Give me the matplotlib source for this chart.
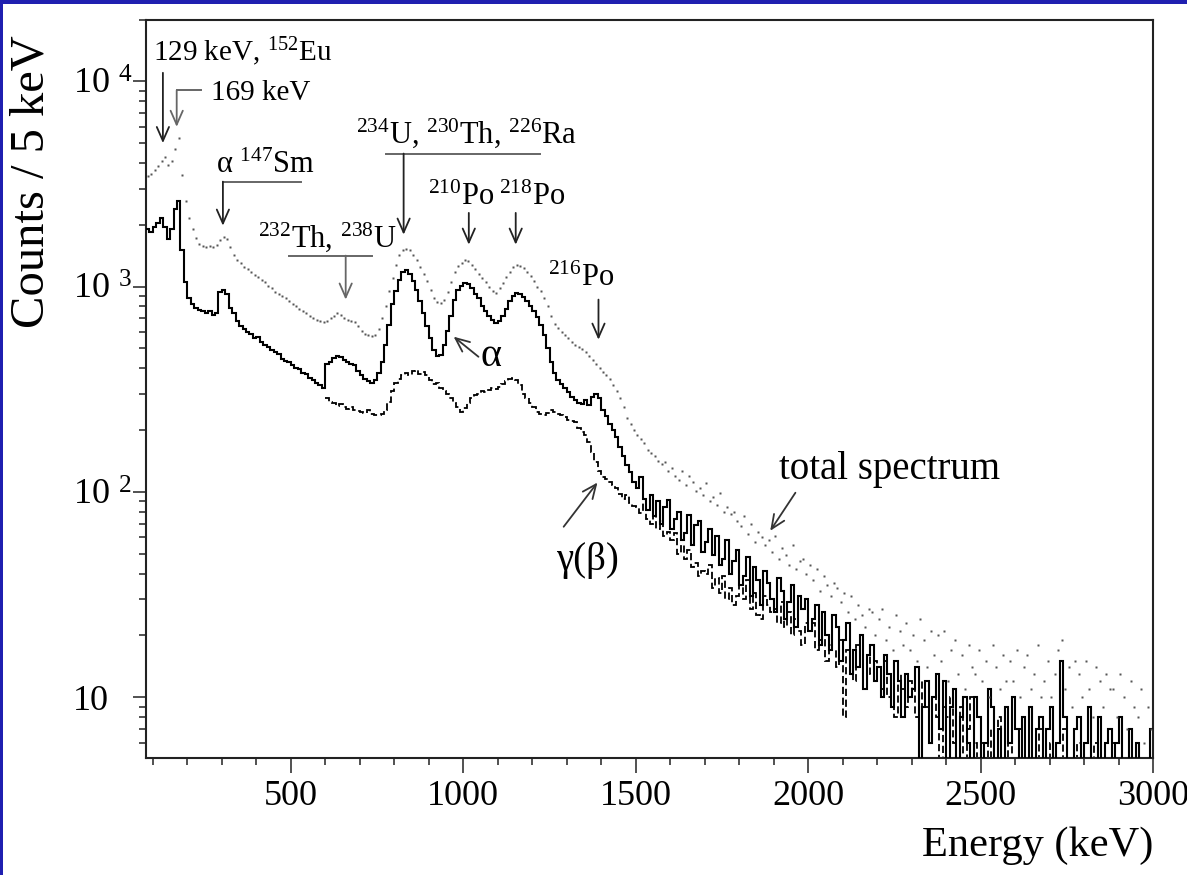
import numpy as np
import matplotlib
matplotlib.use('Agg')
import matplotlib.pyplot as plt
from matplotlib.patches import Rectangle
from matplotlib.ticker import MultipleLocator, LogLocator, NullFormatter

plt.rcParams['font.family'] = ['Liberation Serif', 'DejaVu Serif']
plt.rcParams['mathtext.fontset'] = 'custom'
plt.rcParams['mathtext.rm'] = 'Liberation Serif'
plt.rcParams['mathtext.it'] = 'Liberation Serif:italic'
plt.rcParams['mathtext.bf'] = 'Liberation Serif:bold'

# 10 keV bins from 80 keV, counts per 5 keV
E_START, E_STOP, BIN = 80, 3000, 10
GAMMA_START = 600

alpha_counts = [
    1900, 1850, 1950, 2050, 2150, 1950, 1700, 1900, 2400, 2600,   # 80
    1500, 1050, 880, 820, 790, 770, 760, 740, 760, 730,           # 180
    740, 940, 960, 920, 790, 740, 680, 640, 620, 600,             # 280
    590, 560, 565, 540, 520, 510, 490, 480, 470, 445,             # 380
    435, 430, 415, 400, 395, 380, 375, 360, 350, 340,             # 480
    330, 320, 420, 430, 450, 460, 455, 440, 430, 420,             # 580
    415, 390, 370, 355, 345, 340, 350, 380, 430, 520,             # 680
    650, 820, 950, 1080, 1180, 1210, 1150, 1060, 960, 850,        # 780
    740, 640, 560, 490, 460, 465, 520, 610, 720, 860,             # 880
    960, 1010, 1040, 1030, 980, 920, 880, 800, 760, 720,          # 980
    690, 665, 680, 720, 780, 850, 900, 930, 925, 890,             # 1080
    850, 800, 760, 710, 650, 580, 500, 430, 380, 350,             # 1180
    335, 320, 305, 290, 280, 272, 268, 280, 265, 290,             # 1280
    300, 285, 250, 235, 215, 200, 185, 165, 150, 135,             # 1380
    125, 112, 104, 118, 92, 82, 97, 76, 90, 70,                   # 1480
    84, 91, 66, 74, 80, 58, 63, 77, 55, 69,                       # 1580
    72, 51, 57, 66, 49, 61, 44, 47, 58, 40,                       # 1680
    46, 52, 35, 39, 48, 31, 43, 37, 28, 41,                       # 1780
    36, 30, 26, 38, 33, 24, 29, 35, 22, 31,                       # 1880
    27, 30, 21, 24, 28, 18, 26, 20, 17, 25,                       # 1980
    22, 15, 19, 23, 13, 17, 14, 20, 11, 16,                       # 2080
    18, 12, 14, 10, 16, 13, 9, 15, 12, 8,                         # 2180
    13, 10, 11, 14, 4, 9, 12, 6, 10, 13,                          # 2280
    7, 12, 4, 9, 11, 3, 8, 10, 6, 5,                              # 2380
    10, 8, 3, 6, 11, 9, 4, 7, 2, 9,                               # 2480
    6, 10, 7, 3, 8, 5, 9, 2, 7, 8,                                # 2580
    4, 7, 9, 3, 6, 15, 8, 5, 3, 7,                                # 2680
    8, 4, 6, 9, 3, 5, 8, 2, 6, 7,                                 # 2780
    3, 6, 8, 2, 5, 7, 3, 6, 4, 2,                                 # 2880
    3, 7,                                                         # 2980
]

gamma_counts = [
    285, 275, 270, 262, 268, 258, 252, 260, 250, 248,   # 600
    246, 242, 250, 240, 238, 236, 240, 250, 275, 310,   # 700
    340, 355, 370, 380, 372, 388, 392, 375, 385, 370,   # 800
    350, 335, 340, 320, 310, 300, 285, 270, 260, 245,   # 900
    255, 270, 285, 295, 300, 310, 305, 315, 320, 318,   # 1000
    325, 335, 345, 355, 358, 350, 330, 300, 285, 270,   # 1100
    260, 245, 240, 238, 242, 250, 245, 240, 238, 232,   # 1200
    225, 222, 218, 205, 195, 190, 175, 157, 140, 126,   # 1300
    118, 116, 112, 108, 104, 98, 92, 96, 88, 85,        # 1400
    84, 79, 88, 74, 70, 81, 66, 72, 61, 64,             # 1500
    58, 63, 50, 55, 47, 52, 43, 45, 39, 41,             # 1600
    40, 44, 34, 38, 32, 39, 30, 34, 28, 31,             # 1700
    35, 30, 37, 27, 32, 25, 24, 31, 28, 26,             # 1800
    27, 23, 29, 22, 26, 20, 24, 21, 18, 23,             # 1900
    21, 23, 17, 19, 22, 15, 18, 17, 14, 19,             # 2000
    8, 17, 15, 12, 18, 14, 11, 16, 13, 15,              # 2100
    14, 11, 15, 10, 12, 8, 13, 11, 9, 12,               # 2200
    11, 8, 5, 12, 9, 7, 10, 8, 4, 9,                    # 2300
    8, 10, 6, 5, 9, 4, 7, 10, 6, 5,                     # 2400
    6, 3, 7, 5, 4, 8, 2, 5, 6, 4,                       # 2500
    5, 7, 3, 4, 6, 2, 5, 7, 4, 3,                       # 2600
    6, 4, 5, 3, 7, 4, 2, 5, 6, 3,                       # 2700
    4, 5, 3, 6, 2, 4, 5, 3, 6, 2,                       # 2800
    4, 3, 5, 2, 4, 3, 2, 4, 3, 2,                       # 2900
]

total_counts = [
    3450, 3550, 3700, 3850, 4100, 4300, 3900, 4100, 4700, 5300,   # 80
    3500, 2600, 2150, 1900, 1720, 1620, 1580, 1560, 1580, 1560,   # 180
    1600, 1680, 1740, 1700, 1560, 1420, 1340, 1300, 1250, 1220,   # 280
    1180, 1140, 1110, 1080, 1050, 1010, 980, 940, 920, 900,       # 380
    880, 850, 820, 800, 780, 760, 740, 720, 700, 690,             # 480
    680, 670, 680, 700, 720, 740, 730, 700, 690, 680,             # 580
    670, 640, 610, 590, 580, 575, 580, 620, 700, 800,             # 680
    950, 1100, 1280, 1420, 1500, 1530, 1500, 1420, 1340, 1250,    # 780
    1150, 1060, 960, 880, 840, 830, 860, 940, 1050, 1180,         # 880
    1260, 1310, 1340, 1330, 1280, 1220, 1150, 1100, 1050, 1000,   # 980
    950, 935, 980, 1040, 1110, 1180, 1240, 1270, 1260, 1230,      # 1080
    1180, 1120, 1060, 1000, 950, 880, 800, 720, 660, 630,         # 1180
    600, 580, 560, 540, 520, 505, 495, 480, 460, 440,             # 1280
    420, 400, 385, 370, 355, 330, 310, 285, 260, 230,             # 1380
    215, 200, 190, 180, 172, 160, 155, 150, 142, 136,             # 1480
    140, 126, 131, 120, 114, 127, 108, 119, 112, 101,             # 1580
    104, 97, 110, 90, 94, 86, 99, 80, 84, 78,                     # 1680
    80, 72, 68, 76, 62, 70, 57, 64, 60, 55,                       # 1780
    58, 51, 61, 47, 53, 49, 44, 55, 42, 46,                       # 1880
    47, 40, 44, 37, 42, 33, 39, 35, 31, 36,                       # 1980
    34, 29, 32, 26, 31, 24, 28, 25, 22, 27,                       # 2080
    26, 20, 24, 27, 19, 22, 17, 25, 21, 18,                       # 2180
    23, 17, 20, 15, 24, 19, 14, 21, 16, 20,                       # 2280
    15, 21, 12, 17, 19, 13, 16, 11, 18, 14,                       # 2380
    13, 17, 12, 15, 10, 18, 14, 11, 16, 12,                       # 2480
    15, 12, 17, 10, 14, 16, 11, 13, 18, 10,                       # 2580
    12, 15, 10, 13, 17, 19, 11, 14, 9, 15,                        # 2680
    13, 10, 15, 11, 8, 14, 12, 9, 13, 11,                         # 2780
    11, 8, 13, 10, 7, 12, 9, 8, 11, 6,                            # 2880
    9, 7,                                                         # 2980
]

y_ticks = [10, 100, 1000, 10000]
y_tick_labels = ['10', '10 $^{\\mathrm{2}}$', '10 $^{\\mathrm{3}}$', '10 $^{\\mathrm{4}}$']
x_ticks = [500, 1000, 1500, 2000, 2500, 3000]

edges = np.arange(E_START, E_STOP + BIN, BIN)
gamma_edges = np.arange(GAMMA_START, E_STOP + BIN, BIN)
centers = edges[:-1] + BIN / 2

fig = plt.figure(figsize=(11.87, 8.75), dpi=100)
ax = fig.add_axes([0.123, 0.1337, 0.8484, 0.844])

ax.stairs(alpha_counts, edges, baseline=None, color='black', lw=1.5, zorder=3)
ax.stairs(gamma_counts, gamma_edges, baseline=None, color='black', lw=1.3,
          linestyle=(0, (4, 2)), zorder=2)
ax.plot(centers, total_counts, ls='none', marker='s', ms=1.8,
        mfc='#555555', mec='none', zorder=4)

ax.set_yscale('log')
ax.set_xlim(E_START, E_STOP)
ax.set_ylim(5.05, 2.0e4)

ax.set_xticks(x_ticks)
ax.xaxis.set_minor_locator(MultipleLocator(100))
ax.set_yticks(y_ticks, labels=y_tick_labels)
ax.yaxis.set_minor_locator(LogLocator(base=10, subs=np.arange(2, 10)))
ax.yaxis.set_minor_formatter(NullFormatter())

ax.tick_params(axis='both', which='both', direction='out', color='#222222',
               width=1.1, labelsize=26)
ax.tick_params(axis='x', which='major', length=10.5, pad=5)
ax.tick_params(axis='x', which='minor', length=5.3)
ax.tick_params(axis='y', which='major', length=9.5, pad=43)
ax.tick_params(axis='y', which='minor', length=4.7)
for lbl in ax.get_yticklabels():
    lbl.set_horizontalalignment('left')

for sp in ax.spines.values():
    sp.set_linewidth(1.5)
    sp.set_color('#222222')

ax.set_xlabel('Energy (keV)', fontsize=30.5, loc='right')
ax.xaxis.set_label_coords(1.0, -0.093)
ax.set_ylabel('Counts / 5 keV', fontsize=35)
ax.yaxis.set_label_coords(-0.092, 0.78)

TXT = 22
ARROW_DARK = '#222222'
ARROW_GREY = '#666666'


def arrow(x0, y0, x1, y1, color=ARROW_DARK):
    ax.annotate('', xy=(x1, y1), xytext=(x0, y0),
                arrowprops=dict(arrowstyle='->,head_length=0.5,head_width=0.22',
                                color=color, lw=1.3, shrinkA=0, shrinkB=0,
                                mutation_scale=20), zorder=6)


def bracket(x0, x1, y):
    ax.plot([x0, x1], [y, y], color=ARROW_GREY, lw=1.4, zorder=6)


# 152Eu line and the 169 keV peak
ax.text(100, 12650, '129 keV, $^{\\mathrm{152}}$Eu', fontsize=21, va='baseline')
arrow(129, 11000, 129, 5000)
ax.text(268, 8080, '169 keV', fontsize=21, va='baseline')
bracket(169, 239, 9040)
arrow(169, 9040, 169, 6000, ARROW_GREY)

# alpha line of 147Sm
ax.text(283, 3580, 'α $^{\\mathrm{147}}$Sm', fontsize=TXT, va='baseline')
bracket(303, 529, 3245)
arrow(303, 3245, 303, 1980)

# 232Th, 238U group
ax.text(405, 1570, '$^{\\mathrm{232}}$Th, $^{\\mathrm{238}}$U', fontsize=TXT, va='baseline')
bracket(494, 735, 1415)
arrow(659, 1415, 659, 864, ARROW_GREY)

# 234U, 230Th, 226Ra group
ax.text(688, 5010, '$^{\\mathrm{234}}$U, $^{\\mathrm{230}}$Th, $^{\\mathrm{226}}$Ra',
        fontsize=TXT, va='baseline')
bracket(775, 1221, 4445)
arrow(827, 4445, 827, 1790)

# polonium lines
ax.text(897, 2505, '$^{\\mathrm{210}}$Po', fontsize=TXT, va='baseline')
ax.text(1103, 2505, '$^{\\mathrm{218}}$Po', fontsize=TXT, va='baseline')
arrow(1016, 2285, 1016, 1600)
arrow(1152, 2285, 1152, 1600)
ax.text(1245, 1003, '$^{\\mathrm{216}}$Po', fontsize=TXT, va='baseline')
arrow(1392, 864, 1392, 551)

# curve labels
ax.text(1050, 409, 'α', fontsize=29, va='baseline')
arrow(1044, 455, 972, 570, '#333333')
ax.text(1914, 115, 'total spectrum', fontsize=28, va='baseline')
arrow(1963, 99, 1890, 64.6, '#333333')
ax.text(1268, 41.7, 'γ(β)', fontsize=28, va='baseline')
arrow(1291, 67.6, 1389, 111, '#333333')

# slide frame along the top and left edges
fig.patches.append(Rectangle((0, 1 - 4 / 875), 1, 4 / 875, transform=fig.transFigure,
                             facecolor='#1f1fb0', edgecolor='none'))
fig.patches.append(Rectangle((0, 0), 2.5 / 1187, 1, transform=fig.transFigure,
                             facecolor='#1f1fb0', edgecolor='none'))

fig.savefig('out.png', dpi=100)
